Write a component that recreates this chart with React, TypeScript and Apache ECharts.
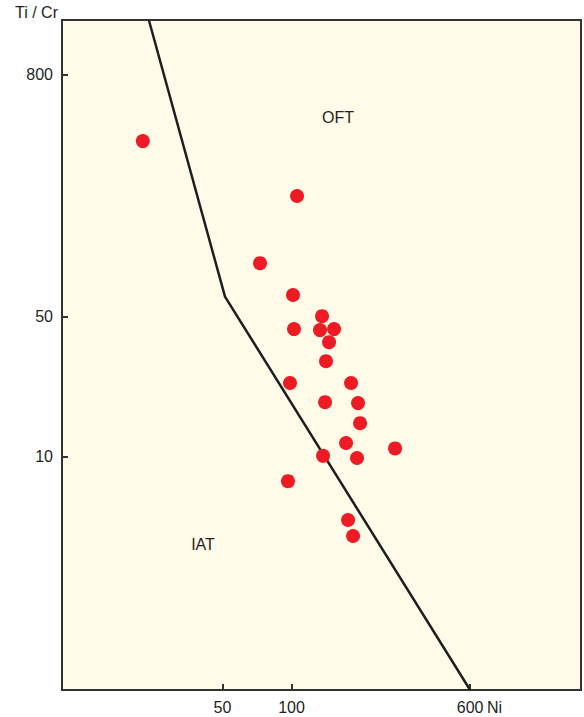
import React, { useEffect, useRef } from "react";
import * as echarts from "echarts";

// Sample data: Ni (ppm) vs Ti/Cr, log–log discrimination diagram
const niValues = [22.5, 105.7, 72.9, 101.5, 135.8, 102.5, 133.1, 153.2, 145.7, 141.3, 98.5, 181.7, 140.0, 194.9, 198.9, 172.8, 282.5, 137.2, 192.9, 96.5, 176.3, 185.4];
const tiCrValues = [372.6, 198.5, 92.0, 63.8, 50.1, 43.2, 42.7, 43.2, 37.2, 29.9, 23.3, 23.3, 18.7, 18.5, 14.7, 11.7, 11.0, 10.1, 9.85, 7.56, 4.84, 4.03];

// IAT / OFT boundary line (Ni, Ti/Cr)
const boundaryNi = [23.9, 51.3, 600];
const boundaryTiCr = [1493, 62.7, 0.69];

// Axis ticks and ranges
const xTickLabels = [50, 100, 600];
const yTickLabels = [10, 50, 800];
const xRange = [10, 1825];
const yRange = [0.69, 1493];

const FONT = "'Liberation Sans', Arial, Helvetica, sans-serif";
const TEXT_COLOR = "#231f20";

export default function App() {
  const ref = useRef<HTMLDivElement>(null);

  useEffect(() => {
    if (!ref.current) return;
    const chart = echarts.init(ref.current, null, { renderer: "svg" });
    const lg = (v: number) => Math.log10(v);
    const fmt = (v: number) => String(Math.round(Math.pow(10, v)));

    const points = niValues.map((n, i) => [lg(n), lg(tiCrValues[i])]);
    const boundary = boundaryNi.map((n, i) => [lg(n), lg(boundaryTiCr[i])]);

    const axisCommon = (ticks: number[]) => ({
      type: "value",
      splitLine: { show: false },
      axisLine: { show: true, onZero: false, lineStyle: { color: "#333333", width: 2 } },
      axisTick: {
        show: true,
        inside: true,
        length: 6,
        customValues: ticks.map(lg),
        lineStyle: { color: "#333333", width: 2 },
      },
      axisLabel: {
        customValues: ticks.map(lg),
        formatter: fmt,
        margin: 9,
        fontSize: 16,
        fontFamily: FONT,
        color: TEXT_COLOR,
      },
    });

    chart.setOption({
      animation: false,
      grid: {
        left: 62,
        top: 20,
        right: 3,
        bottom: 27,
        show: true,
        backgroundColor: "#fffbe8",
        borderColor: "#333333",
        borderWidth: 2,
      },
      xAxis: { ...axisCommon(xTickLabels), min: lg(xRange[0]), max: lg(xRange[1]) },
      yAxis: { ...axisCommon(yTickLabels), min: lg(yRange[0]), max: lg(yRange[1]) },
      graphic: [
        {
          type: "text",
          left: 15,
          top: 4,
          style: { text: "Ti / Cr", fontSize: 16, fontFamily: FONT, fill: TEXT_COLOR },
        },
        {
          type: "text",
          left: 487,
          top: 699,
          style: { text: "Ni", fontSize: 16, fontFamily: FONT, fill: TEXT_COLOR },
        },
        {
          type: "text",
          x: 338,
          y: 117,
          style: { text: "OFT", fontSize: 16, fontFamily: FONT, fill: TEXT_COLOR, align: "center", verticalAlign: "middle" },
        },
        {
          type: "text",
          x: 203,
          y: 544,
          style: { text: "IAT", fontSize: 16, fontFamily: FONT, fill: TEXT_COLOR, align: "center", verticalAlign: "middle" },
        },
      ],
      series: [
        {
          type: "line",
          data: boundary,
          showSymbol: false,
          symbol: "none",
          clip: true,
          lineStyle: { color: "#1e1e1e", width: 2.5 },
          z: 2,
        },
        {
          type: "scatter",
          data: points,
          symbol: "circle",
          symbolSize: 14,
          itemStyle: { color: "#ed1c24", opacity: 1 },
          z: 3,
        },
      ],
    });

    return () => chart.dispose();
  }, []);

  return (
    <div
      ref={ref}
      style={{ position: "absolute", left: 0, top: 0, width: 584, height: 717 }}
    />
  );
}
